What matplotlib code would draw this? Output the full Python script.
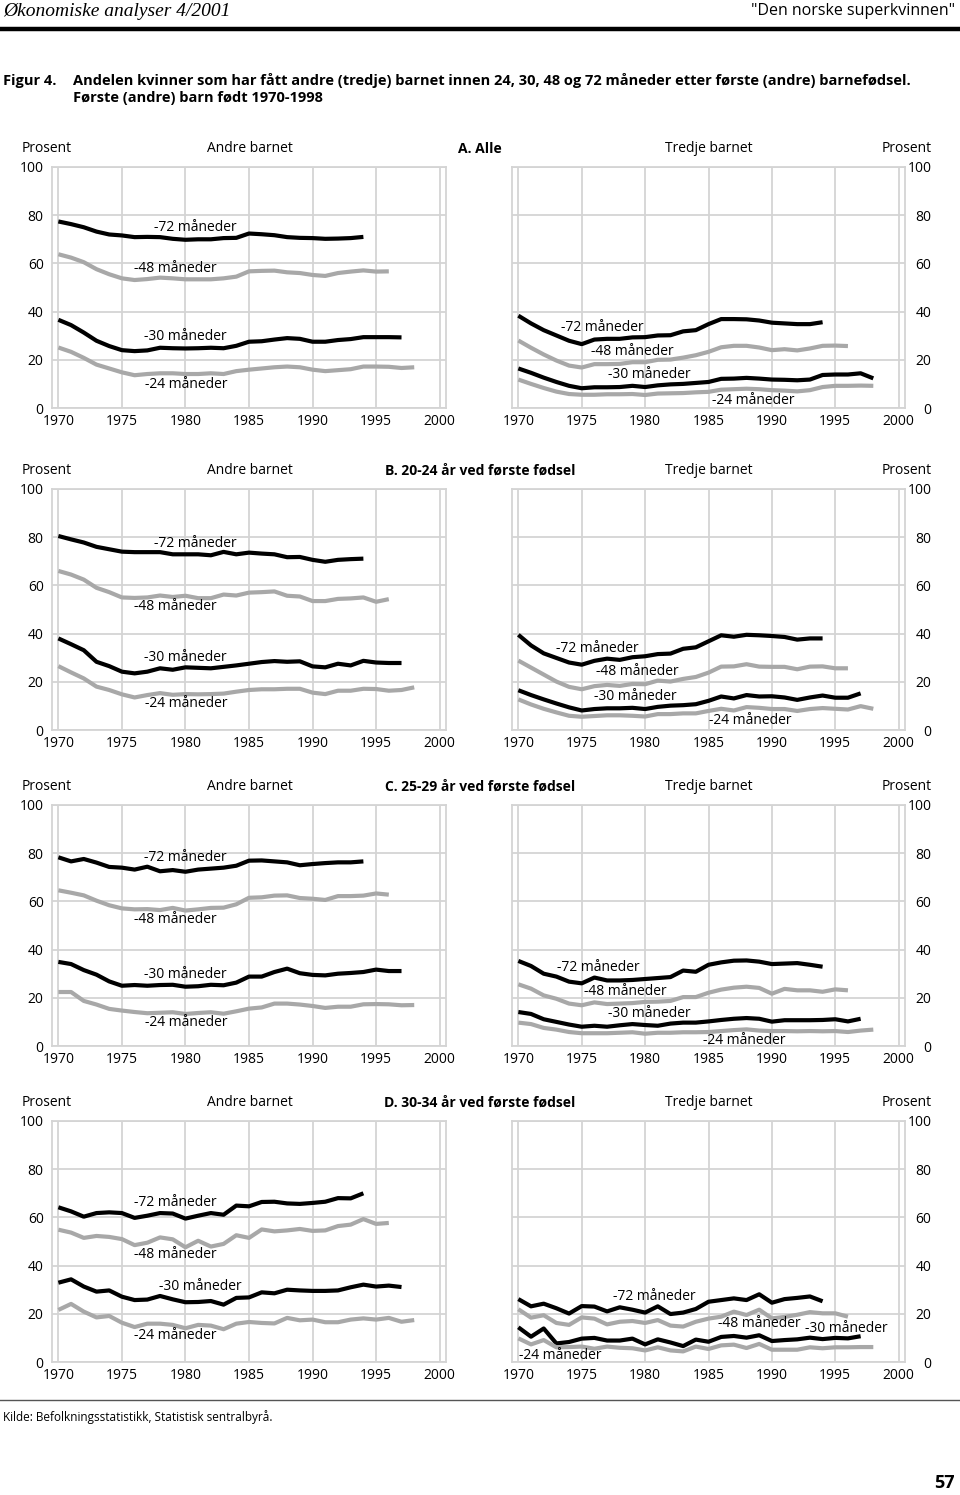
import matplotlib

matplotlib.use("Agg")
import matplotlib.pyplot as plt

plt.rcParams["font.family"] = ["Open Sans", "DejaVu Sans"]

YEARS = list(range(1970, 1999))

# Andre barnet / Tredje barnet, per aldersgruppe. 72 og 48 mnd til 1994/1996, 30 til 1997, 24 til 1998.
A_ANDRE_72 = [77.4, 76.3, 75.0, 73.2, 72.0, 71.6, 70.9, 71.0, 70.9, 70.2, 69.8, 70.0, 70.0, 70.5, 70.6,
              72.4, 72.1, 71.7, 70.9, 70.6, 70.5, 70.2, 70.3, 70.5, 71.0]
A_ANDRE_48 = [63.8, 62.4, 60.5, 57.6, 55.5, 53.8, 53.1, 53.5, 54.1, 53.8, 53.4, 53.4, 53.4, 53.8, 54.5,
              56.7, 56.9, 57.0, 56.3, 56.0, 55.2, 54.8, 56.0, 56.6, 57.1, 56.6, 56.7]
A_ANDRE_30 = [36.6, 34.4, 31.3, 27.9, 25.7, 24.0, 23.6, 23.9, 25.0, 24.8, 24.7, 24.8, 25.0, 24.8, 25.8,
              27.5, 27.7, 28.4, 29.0, 28.7, 27.5, 27.5, 28.2, 28.6, 29.4, 29.4, 29.4, 29.3]
A_ANDRE_24 = [25.1, 23.3, 20.8, 18.0, 16.4, 14.8, 13.6, 14.1, 14.4, 14.4, 14.1, 14.1, 14.4, 14.1, 15.3,
              15.9, 16.4, 16.9, 17.2, 16.9, 15.9, 15.3, 15.7, 16.1, 17.2, 17.2, 17.1, 16.6, 16.9]
A_TREDJE_72 = [38.3, 35.1, 32.3, 30.1, 27.9, 26.5, 28.4, 28.7, 28.7, 29.3, 29.4, 30.1, 30.2, 31.8, 32.3,
               34.8, 36.9, 36.9, 36.8, 36.3, 35.4, 35.1, 34.8, 34.8, 35.6]
A_TREDJE_48 = [28.0, 25.0, 22.2, 19.7, 17.6, 16.8, 18.2, 18.2, 18.3, 19.0, 19.0, 20.0, 20.1, 20.9, 21.9,
               23.3, 25.2, 25.8, 25.8, 25.1, 24.0, 24.4, 23.9, 24.7, 25.8, 25.9, 25.7]
A_TREDJE_30 = [16.4, 14.6, 12.6, 10.8, 9.2, 8.2, 8.6, 8.6, 8.7, 9.2, 8.7, 9.4, 9.8, 10.0, 10.4,
               10.8, 12.1, 12.2, 12.5, 12.2, 11.8, 11.7, 11.5, 11.8, 13.7, 13.9, 13.9, 14.4, 12.3]
A_TREDJE_24 = [11.8, 10.0, 8.3, 6.8, 5.8, 5.5, 5.5, 5.7, 5.7, 5.8, 5.4, 6.0, 6.1, 6.2, 6.5,
               6.7, 7.6, 7.8, 8.0, 7.8, 7.4, 7.2, 6.9, 7.4, 8.7, 9.2, 9.2, 9.3, 9.2]

B_ANDRE_72 = [80.5, 79.1, 77.8, 76.0, 75.0, 74.0, 73.8, 73.8, 73.8, 72.9, 72.9, 72.9, 72.5, 73.9, 72.9,
              73.6, 73.2, 72.9, 71.7, 71.8, 70.6, 69.8, 70.6, 70.9, 71.1]
B_ANDRE_48 = [66.0, 64.5, 62.4, 59.0, 57.2, 55.0, 54.8, 55.0, 55.8, 55.2, 55.7, 54.7, 54.7, 56.2, 55.8,
              57.0, 57.2, 57.5, 55.7, 55.4, 53.5, 53.5, 54.4, 54.6, 55.0, 53.2, 54.3]
B_ANDRE_30 = [38.0, 35.6, 33.1, 28.3, 26.5, 24.2, 23.5, 24.2, 25.6, 25.0, 26.0, 25.8, 25.6, 26.2, 26.8,
              27.5, 28.2, 28.6, 28.3, 28.5, 26.4, 26.0, 27.5, 26.8, 28.7, 28.0, 27.8, 27.8]
B_ANDRE_24 = [26.5, 23.9, 21.4, 18.0, 16.6, 14.8, 13.5, 14.5, 15.3, 14.6, 14.9, 14.8, 14.9, 15.1, 15.9,
              16.6, 16.9, 16.9, 17.1, 17.1, 15.5, 14.9, 16.3, 16.3, 17.1, 17.0, 16.3, 16.6, 17.7]
B_TREDJE_72 = [39.5, 35.1, 31.8, 29.9, 28.0, 27.1, 28.7, 29.6, 29.1, 30.2, 30.6, 31.5, 31.7, 33.7, 34.3,
               36.8, 39.3, 38.7, 39.5, 39.3, 39.0, 38.6, 37.5, 38.0, 38.0]
B_TREDJE_48 = [28.8, 25.9, 23.0, 20.1, 17.9, 16.9, 18.2, 18.7, 18.3, 19.1, 19.0, 20.5, 20.1, 21.2, 22.0,
               23.8, 26.3, 26.4, 27.3, 26.3, 26.2, 26.2, 25.2, 26.3, 26.4, 25.6, 25.6]
B_TREDJE_30 = [16.5, 14.5, 12.7, 11.0, 9.4, 8.1, 8.7, 9.0, 9.0, 9.2, 8.7, 9.6, 10.1, 10.3, 10.7,
               12.1, 13.9, 13.1, 14.5, 13.9, 14.0, 13.5, 12.5, 13.5, 14.3, 13.4, 13.4, 15.2]
B_TREDJE_24 = [12.7, 10.6, 8.8, 7.3, 5.9, 5.5, 5.8, 6.1, 6.1, 5.9, 5.6, 6.6, 6.6, 6.9, 6.9,
               7.9, 8.8, 8.1, 9.5, 9.2, 8.7, 8.7, 7.9, 8.7, 9.1, 8.8, 8.5, 9.9, 8.8]

C_ANDRE_72 = [78.3, 76.6, 77.6, 76.1, 74.3, 74.0, 73.2, 74.4, 72.5, 73.0, 72.3, 73.2, 73.6, 74.0, 74.8,
              76.9, 77.0, 76.6, 76.2, 75.0, 75.5, 75.9, 76.2, 76.2, 76.6]
C_ANDRE_48 = [64.6, 63.6, 62.5, 60.3, 58.4, 57.1, 56.7, 56.8, 56.4, 57.3, 56.2, 56.7, 57.3, 57.4, 58.8,
              61.5, 61.7, 62.4, 62.5, 61.4, 61.1, 60.6, 62.2, 62.2, 62.4, 63.3, 62.8]
C_ANDRE_30 = [34.9, 34.0, 31.5, 29.6, 26.8, 25.0, 25.3, 25.0, 25.3, 25.4, 24.6, 24.8, 25.4, 25.2, 26.3,
              28.8, 28.8, 30.7, 32.1, 30.2, 29.5, 29.3, 30.0, 30.3, 30.7, 31.7, 31.1, 31.1]
C_ANDRE_24 = [22.4, 22.4, 18.7, 17.2, 15.4, 14.7, 14.1, 13.6, 13.8, 14.0, 13.3, 13.7, 14.0, 13.4, 14.4,
              15.5, 16.0, 17.6, 17.6, 17.2, 16.6, 15.8, 16.3, 16.3, 17.3, 17.4, 17.3, 16.9, 17.0]
C_TREDJE_72 = [35.3, 33.2, 30.0, 28.8, 26.7, 26.0, 28.4, 27.2, 27.2, 27.4, 27.8, 28.2, 28.6, 31.3, 30.8,
               33.7, 34.7, 35.4, 35.5, 35.0, 34.0, 34.2, 34.4, 33.7, 32.9]
C_TREDJE_48 = [25.6, 23.8, 21.0, 19.6, 17.6, 16.9, 18.1, 17.4, 17.6, 17.8, 18.3, 18.4, 18.7, 20.3, 20.3,
               22.1, 23.4, 24.2, 24.6, 24.1, 21.7, 23.7, 23.1, 23.1, 22.5, 23.5, 23.1]
C_TREDJE_30 = [14.1, 13.3, 11.1, 10.0, 8.9, 8.0, 8.4, 8.0, 8.6, 9.1, 8.7, 8.4, 9.3, 9.7, 9.7,
               10.2, 10.8, 11.3, 11.6, 11.3, 10.1, 10.7, 10.7, 10.7, 10.8, 11.1, 10.2, 11.3]
C_TREDJE_24 = [9.7, 9.1, 7.5, 6.8, 5.8, 5.3, 5.3, 5.3, 5.5, 5.7, 5.1, 5.5, 5.5, 5.7, 5.7,
               5.8, 6.2, 6.6, 6.9, 6.4, 6.2, 6.2, 6.1, 6.2, 6.1, 6.2, 5.8, 6.4, 6.8]

D_ANDRE_72 = [64.2, 62.5, 60.3, 61.8, 62.1, 61.8, 59.8, 60.7, 61.8, 61.6, 59.5, 60.7, 61.8, 61.1, 64.9,
              64.6, 66.4, 66.5, 65.8, 65.6, 66.0, 66.5, 68.0, 67.9, 70.0]
D_ANDRE_48 = [54.9, 53.7, 51.5, 52.3, 51.9, 51.0, 48.5, 49.5, 51.7, 50.9, 47.6, 50.3, 47.9, 49.0, 52.6,
              51.5, 55.0, 54.2, 54.6, 55.2, 54.4, 54.6, 56.4, 57.0, 59.3, 57.3, 57.7]
D_ANDRE_30 = [32.9, 34.3, 31.3, 29.2, 29.7, 27.1, 25.7, 25.9, 27.4, 26.0, 24.8, 24.9, 25.3, 23.8, 26.6,
              26.8, 28.9, 28.5, 30.0, 29.7, 29.5, 29.5, 29.7, 31.0, 32.1, 31.3, 31.7, 31.1]
D_ANDRE_24 = [21.6, 24.1, 20.9, 18.5, 19.1, 16.3, 14.5, 15.9, 15.9, 15.4, 14.0, 15.4, 15.1, 13.6, 15.9,
              16.6, 16.2, 16.0, 18.3, 17.3, 17.6, 16.5, 16.5, 17.6, 18.1, 17.6, 18.3, 16.7, 17.4]
D_TREDJE_72 = [26.1, 23.1, 24.2, 22.3, 20.1, 23.2, 23.0, 21.0, 22.7, 21.7, 20.5, 23.1, 19.9, 20.5, 22.0,
               25.0, 25.7, 26.4, 25.7, 28.1, 24.6, 26.1, 26.6, 27.2, 25.2]
D_TREDJE_48 = [21.9, 18.4, 19.4, 16.2, 15.4, 18.5, 18.0, 15.6, 16.7, 17.0, 16.2, 17.4, 15.1, 14.7, 16.7,
               18.0, 18.8, 20.9, 19.5, 21.7, 18.1, 18.7, 19.6, 20.7, 20.2, 20.2, 18.8]
D_TREDJE_30 = [14.4, 10.5, 13.9, 7.7, 8.3, 9.7, 10.0, 8.9, 8.9, 9.7, 7.3, 9.4, 8.1, 6.6, 9.3,
               8.4, 10.4, 10.8, 10.1, 11.1, 8.7, 9.1, 9.4, 10.1, 9.5, 10.0, 9.8, 10.7]
D_TREDJE_24 = [9.8, 7.3, 9.1, 6.1, 6.2, 6.4, 5.5, 6.4, 5.9, 5.7, 4.8, 6.1, 4.8, 4.4, 6.4,
               5.4, 6.9, 7.2, 5.8, 7.5, 5.1, 5.1, 5.1, 6.1, 5.7, 6.1, 6.1, 6.2, 6.2]

ROW_TITLES = ["A. Alle", "B. 20-24 år ved første fødsel", "C. 25-29 år ved første fødsel",
              "D. 30-34 år ved første fødsel"]
SERIES_NAMES = ["-72 måneder", "-48 måneder", "-30 måneder", "-24 måneder"]

ANDRE = [
    [A_ANDRE_72, A_ANDRE_48, A_ANDRE_30, A_ANDRE_24],
    [B_ANDRE_72, B_ANDRE_48, B_ANDRE_30, B_ANDRE_24],
    [C_ANDRE_72, C_ANDRE_48, C_ANDRE_30, C_ANDRE_24],
    [D_ANDRE_72, D_ANDRE_48, D_ANDRE_30, D_ANDRE_24],
]
TREDJE = [
    [A_TREDJE_72, A_TREDJE_48, A_TREDJE_30, A_TREDJE_24],
    [B_TREDJE_72, B_TREDJE_48, B_TREDJE_30, B_TREDJE_24],
    [C_TREDJE_72, C_TREDJE_48, C_TREDJE_30, C_TREDJE_24],
    [D_TREDJE_72, D_TREDJE_48, D_TREDJE_30, D_TREDJE_24],
]

# label anchors (year, percent) for -72, -48, -30, -24
ANDRE_LABELS = [
    [(1980.8, 75.0), (1979.2, 58.0), (1980.0, 29.5), (1980.1, 9.8)],
    [(1980.8, 77.3), (1979.2, 51.1), (1980.0, 30.1), (1980.1, 10.8)],
    [(1980.0, 78.4), (1979.2, 52.6), (1980.0, 29.6), (1980.1, 9.7)],
    [(1979.2, 66.3), (1979.2, 44.8), (1981.2, 31.5), (1979.2, 10.8)],
]
TREDJE_LABELS = [
    [(1976.6, 33.3), (1979.0, 23.6), (1980.3, 14.1), (1988.5, 3.1)],
    [(1976.2, 33.7), (1979.4, 24.4), (1979.2, 14.0), (1988.3, 4.1)],
    [(1976.3, 32.5), (1978.4, 22.7), (1980.3, 13.3), (1987.8, 2.4)],
    [(1980.7, 27.1), (1989.0, 16.0), (1995.9, 14.1), (1973.3, 2.5)],
]

W, H = 960, 1495
BLACK, GREY, GRID = "#000000", "#a8a8a8", "#d4d4d4"
SERIES_COLORS = [BLACK, GREY, BLACK, GREY]
ROW_TOPS = [167, 489, 805, 1121]
AX_H = 241


def px(x, y):
    return x / W, 1 - y / H


def panel(fig, left, right, top, series, labels, side):
    ax = fig.add_axes([left / W, 1 - (top + AX_H) / H, (right - left) / W, AX_H / H])
    for vals, c in zip(series, SERIES_COLORS):
        ax.plot(YEARS[:len(vals)], vals, color=c, lw=3.0, solid_capstyle="butt", zorder=3)
    for (x, y), name in zip(labels, SERIES_NAMES):
        ax.text(x, y, name, fontsize=10, ha="center", va="center", zorder=4)
    ax.set_xlim(1969.5, 2000.5)
    ax.set_ylim(0, 100)
    ax.set_xticks(range(1970, 2001, 5))
    ax.set_yticks(range(0, 101, 20))
    ax.grid(True, color=GRID, lw=1.3, zorder=0)
    for s in ax.spines.values():
        s.set_color(GRID)
        s.set_linewidth(1.3)
    ax.tick_params(length=0, labelsize=10)
    ax.tick_params(axis="x", pad=4)
    if side == "right":
        ax.yaxis.tick_right()
        ax.tick_params(axis="y", pad=19)
        for lbl in ax.get_yticklabels():
            lbl.set_ha("right")
    else:
        ax.tick_params(axis="y", pad=6)
    return ax


fig = plt.figure(figsize=(W / 100, H / 100), dpi=100)

# header
fig.text(*px(3, 11), "Økonomiske analyser 4/2001", family="Liberation Serif", style="italic",
         fontsize=14, va="center", ha="left")
fig.text(*px(955, 11), "\"Den norske superkvinnen\"", fontsize=11.5, va="center", ha="right")
fig.add_artist(plt.Line2D([0, 1], [1 - 29 / H] * 2, color="black", lw=3.2))
fig.text(*px(3, 81), "Figur 4.", fontsize=10.5, weight="bold", va="center")
fig.text(*px(73, 81), "Andelen kvinner som har fått andre (tredje) barnet innen 24, 30, 48 og 72 "
         "måneder etter første (andre) barnefødsel.", fontsize=10.5, weight="bold", va="center")
fig.text(*px(73, 98), "Første (andre) barn født 1970-1998", fontsize=10.5, weight="bold",
         va="center")

for i, top in enumerate(ROW_TOPS):
    panel(fig, 52, 446, top, ANDRE[i], ANDRE_LABELS[i], "left")
    panel(fig, 512, 905, top, TREDJE[i], TREDJE_LABELS[i], "right")
    ty = top - 18
    fig.text(*px(22, ty), "Prosent", fontsize=10, va="center", ha="left")
    fig.text(*px(250, ty), "Andre barnet", fontsize=10, va="center", ha="center")
    fig.text(*px(480, ty), ROW_TITLES[i], fontsize=10, weight="bold", va="center", ha="center")
    fig.text(*px(709, ty), "Tredje barnet", fontsize=10, va="center", ha="center")
    fig.text(*px(932, ty), "Prosent", fontsize=10, va="center", ha="right")

# footer
fig.add_artist(plt.Line2D([0, 1], [1 - 1400 / H] * 2, color="#555555", lw=1.0))
fig.text(*px(3, 1417), "Kilde: Befolkningsstatistikk, Statistisk sentralbyrå.", fontsize=8.5,
         va="center")
fig.text(*px(955, 1483), "57", fontsize=13, weight="bold", va="center", ha="right")

fig.savefig("out.png", dpi=100)
